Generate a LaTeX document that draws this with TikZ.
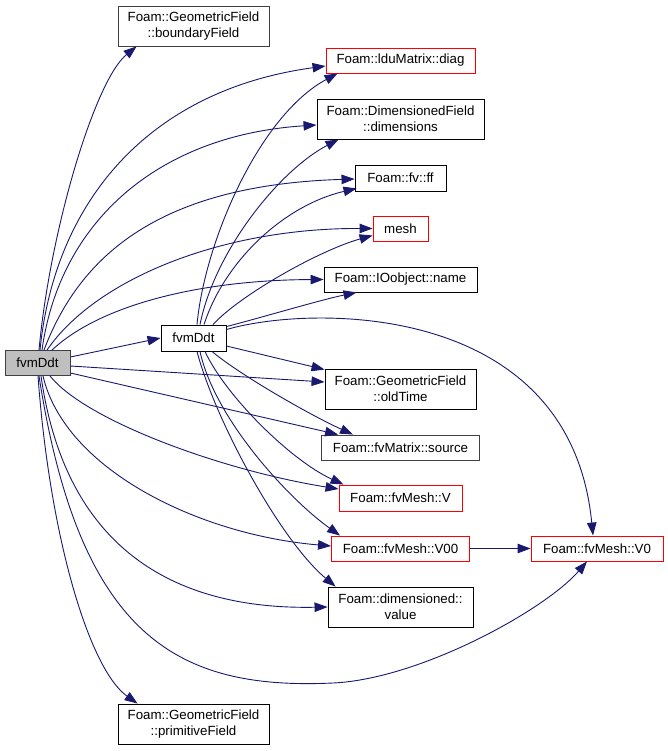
\documentclass[tikz,border=0pt]{standalone}
\usepackage{fontspec}
\setmainfont{Liberation Sans}
\usetikzlibrary{arrows.meta}
\definecolor{edgeblue}{HTML}{191970}
\definecolor{nodegray}{HTML}{BFBFBF}
\definecolor{grey25}{HTML}{404040}
\definecolor{nodered}{HTML}{FF0000}
\tikzset{
  fn/.style={draw=black, line width=0.9pt, fill=white, inner sep=0pt, align=center,
    font=\fontsize{13.3}{16}\selectfont},
  fngray/.style={fn, draw=grey25},
  fnred/.style={fn, draw=nodered},
  fnroot/.style={fn, draw=grey25, fill=nodegray},
  e/.style={draw=edgeblue, line width=0.9pt, -{Triangle[length=13pt,width=9.5pt]}, fill=none},
}
\begin{document}
\begin{tikzpicture}[x=1pt,y=-1pt]
\useasboundingbox (0,0) rectangle (668,751);
\fill[white] (0,0) rectangle (668,751);
% nodes
\node[fnroot, minimum width=65pt, minimum height=25pt] (A) at (37.5,363) {fvmDdt};
\node[fn, minimum width=65pt, minimum height=26pt] (B) at (193.5,338) {fvmDdt};
\node[fngray, minimum width=151pt, minimum height=40pt] (bf) at (193.5,26) {Foam::GeometricField\\::boundaryField};
\node[fnred, minimum width=149pt, minimum height=25pt] (diag) at (400.5,60.5) {Foam::lduMatrix::diag};
\node[fn, minimum width=167pt, minimum height=40pt] (dims) at (400.5,119) {Foam::DimensionedField\\::dimensions};
\node[fn, minimum width=91pt, minimum height=26pt] (ff) at (400.5,178) {Foam::fv::ff};
\node[fnred, minimum width=55pt, minimum height=25pt] (mesh) at (400.5,228.5) {mesh};
\node[fn, minimum width=153pt, minimum height=25pt] (name) at (400.5,279.5) {Foam::IOobject::name};
\node[fn, minimum width=151pt, minimum height=40pt] (old) at (400.5,389) {Foam::GeometricField\\::oldTime};
\node[fngray, minimum width=158pt, minimum height=25pt] (src) at (400.5,447.5) {Foam::fvMatrix::source};
\node[fnred, minimum width=123pt, minimum height=26pt] (V) at (400.5,498) {Foam::fvMesh::V};
\node[fnred, minimum width=138pt, minimum height=25pt] (V00) at (400.5,548.5) {Foam::fvMesh::V00};
\node[fnred, minimum width=132pt, minimum height=25pt] (V0) at (597,548.5) {Foam::fvMesh::V0};
\node[fn, minimum width=145pt, minimum height=40pt] (val) at (400.5,607) {Foam::dimensioned::\\value};
\node[fn, minimum width=151pt, minimum height=40pt] (prim) at (193.5,724) {Foam::GeometricField\\::primitiveField};
% edges from A (top)
\draw[e] ([xshift=1.5pt]A.north) .. controls (50,230) and (95,80) .. ([xshift=19pt]bf.south west);
\draw[e] ([xshift=2.5pt]A.north) .. controls (55,200) and (150,90) .. ([yshift=-5.5pt]diag.west);
\draw[e] ([xshift=4.5pt]A.north) .. controls (60,220) and (160,135) .. ([yshift=-6pt]dims.west);
\draw[e] ([xshift=6.5pt]A.north) .. controls (80,255) and (160,185) .. ([yshift=-1pt]ff.west);
\draw[e] ([xshift=9.5pt]A.north) .. controls (95,280) and (220,228) .. (mesh.west);
\draw[e] ([xshift=14.5pt]A.north) .. controls (100,305) and (200,280) .. (name.west);
% edges from A (right)
\draw[e] ([yshift=6pt]A.east) -- (B.west);
\draw[e] ([yshift=-3pt]A.east) -- ([yshift=7pt]old.west);
\draw[e] ([yshift=-10pt]A.east) -- ([xshift=17pt]src.north west);
% edges from A (bottom)
\draw[e] ([xshift=12.5pt]A.south) .. controls (85,420) and (220,470) .. ([yshift=9pt]V.west);
\draw[e] ([xshift=5.5pt]A.south) .. controls (65,470) and (200,535) .. ([yshift=2.5pt]V00.west);
\draw[e] ([xshift=3.5pt]A.south) .. controls (65,545) and (170,610) .. (val.west);
\draw[e] ([xshift=1.5pt]A.south) .. controls (80,640) and (180,690) .. (333,683)
   .. controls (420,679) and (545,610) .. ([xshift=-10pt]V0.south);
\draw[e] ([xshift=0.5pt]A.south) .. controls (50,540) and (90,670) .. ([xshift=20pt]prim.north west);
% edges from B (top)
\draw[e] ([xshift=3.5pt]B.north) .. controls (205,240) and (260,115) .. ([xshift=12pt]diag.south west);
\draw[e] ([xshift=6.5pt]B.north) .. controls (215,250) and (280,170) .. ([xshift=22pt]dims.south west);
\draw[e] ([xshift=10.5pt]B.north) .. controls (225,260) and (285,205) .. ([xshift=2pt,yshift=3pt]ff.south west);
\draw[e] ([xshift=19.5pt]B.north) .. controls (240,295) and (320,250) .. ([yshift=-7pt]mesh.west);
\draw[e] ([yshift=-2pt]B.north east) .. controls (260,318) and (320,300) .. ([xshift=33pt]name.south west);
\draw[e] ([yshift=-5pt]B.north east) .. controls (310,305) and (570,300) .. ([xshift=-4pt]V0.north);
% edges from B (right / bottom)
\draw[e] ([yshift=-8pt]B.east) -- ([yshift=-1pt]old.north west);
\draw[e] ([xshift=18.5pt]B.south) .. controls (240,375) and (310,415) .. ([xshift=32pt]src.north west);
\draw[e] ([xshift=11.5pt]B.south) .. controls (225,395) and (290,460) .. ([xshift=5pt]V.north west);
\draw[e] ([xshift=6.5pt]B.south) .. controls (215,420) and (290,500) .. ([xshift=9pt]V00.north west);
\draw[e] ([xshift=3.5pt]B.south) .. controls (215,420) and (280,540) .. ([xshift=8pt]val.north west);
% V00 -> V0
\draw[e] (V00.east) -- (V0.west);
\end{tikzpicture}
\end{document}
